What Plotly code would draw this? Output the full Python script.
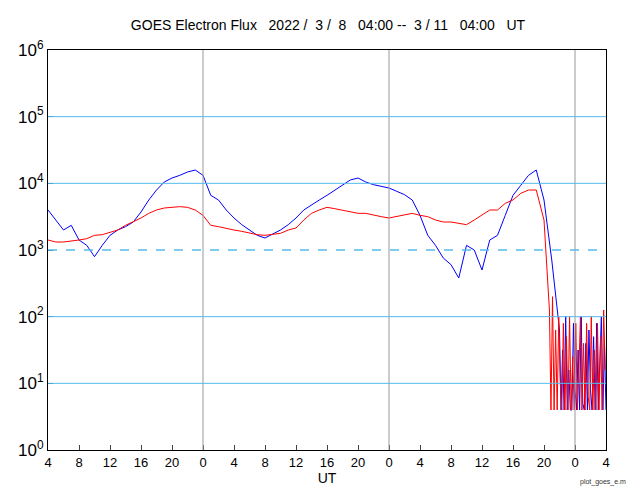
import numpy as np
import plotly.graph_objects as go

# hours since 2022-03-08 04:00 UT, log10 of flux
blue_hours = list(range(0, 66))
blue_log = [3.6, 3.45, 3.3, 3.37, 3.15, 3.07, 2.9, 3.07, 3.22, 3.3, 3.35, 3.42,
            3.57, 3.75, 3.9, 4.02, 4.08, 4.12, 4.17, 4.2, 4.12, 3.82, 3.75, 3.6,
            3.48, 3.38, 3.3, 3.22, 3.18, 3.24, 3.3, 3.38, 3.48, 3.6, 3.68, 3.75,
            3.82, 3.9, 3.98, 4.05, 4.08, 4.02, 3.98, 3.95, 3.93, 3.88, 3.83, 3.75,
            3.52, 3.22, 3.07, 2.88, 2.78, 2.58, 3.07, 3.0, 2.7, 3.15, 3.22, 3.52,
            3.82, 3.97, 4.12, 4.2, 3.75, 2.85]
red_hours = list(range(0, 65))
red_log = [3.15, 3.12, 3.12, 3.13, 3.15, 3.17, 3.22, 3.23, 3.27, 3.3, 3.37, 3.42,
           3.48, 3.55, 3.6, 3.63, 3.64, 3.65, 3.64, 3.6, 3.52, 3.37, 3.35, 3.32,
           3.3, 3.28, 3.25, 3.23, 3.22, 3.24, 3.25, 3.3, 3.33, 3.45, 3.55, 3.6,
           3.64, 3.62, 3.6, 3.58, 3.55, 3.55, 3.52, 3.5, 3.48, 3.5, 3.52, 3.55,
           3.52, 3.5, 3.45, 3.42, 3.42, 3.4, 3.38, 3.45, 3.52, 3.6, 3.6, 3.7,
           3.75, 3.85, 3.9, 3.9, 3.45]
tail_hours = [66 + 0.2 * i for i in range(31)]
blue_tail = [1.8, 0.6, 1.5, 0.6, 2.0, 0.6, 1.2, 0.6, 0.6, 1.9, 0.9, 0.6, 1.5, 0.6, 2.0, 0.7,
             0.6, 1.6, 0.6, 1.8, 0.9, 0.6, 1.7, 0.6, 1.9, 0.6, 1.3, 2.0, 0.6, 1.6, 0.6]
red_tail_hours = [64.5 + 0.2 * i for i in range(38)]
red_tail = [2.4, 2.1, 0.6, 2.3, 0.6, 1.8, 0.6, 2.0, 1.0, 0.6, 1.9, 0.6, 1.7, 0.6, 2.0, 0.6, 1.4, 0.6, 1.9,
            0.6, 1.2, 2.0, 0.6, 1.6, 0.6, 1.9, 0.8, 0.6, 2.0, 0.6, 1.5, 0.6, 1.9, 0.6, 1.7, 0.6, 2.1, 1.2]

tick_hours = list(range(0, 73, 4))
tick_text = ["4", "8", "12", "16", "20", "0", "4", "8", "12", "16", "20", "0",
             "4", "8", "12", "16", "20", "0", "4"]

bx = blue_hours + tail_hours
by = 10 ** np.array(blue_log + blue_tail)
rx = red_hours + red_tail_hours
ry = 10 ** np.array(red_log + red_tail)

fig = go.Figure()
for d in [20, 44, 68]:
    fig.add_vline(x=d, line=dict(color="#999999", width=1))
for v in [1, 2, 4, 5]:
    fig.add_hline(y=10 ** v, line=dict(color="#55bbee", width=1))
fig.add_hline(y=1000, line=dict(color="#55bbee", width=1.5, dash="dash"))
fig.add_trace(go.Scatter(x=bx, y=by, mode="lines", line=dict(color="blue", width=1)))
fig.add_trace(go.Scatter(x=rx, y=ry, mode="lines", line=dict(color="red", width=1)))

fig.update_layout(
    width=640, height=500, showlegend=False,
    plot_bgcolor="white", paper_bgcolor="white",
    margin=dict(l=40, r=42, t=42, b=58, autoexpand=False),
    font=dict(family="Liberation Sans", color="black"),
    title=dict(text="GOES Electron Flux   2022 /  3 /  8   04:00 --  3 / 11   04:00   UT",
               x=0.5, xanchor="center", y=0.975, font=dict(size=14)),
)
fig.update_xaxes(range=[0, 72], tickvals=tick_hours, ticktext=tick_text,
                 showgrid=False, showline=True, linecolor="black", mirror=True,
                 ticks="inside", ticklen=5, tickfont=dict(size=13), automargin=False,
                 title=dict(text="UT", font=dict(size=14), standoff=2))
fig.update_yaxes(type="log", range=[0, 6], tickvals=[10 ** i for i in range(7)],
                 ticktext=["10<sup>%d</sup>" % i for i in range(7)], automargin=False,
                 showgrid=False, showline=True, linecolor="black", mirror=True,
                 ticks="inside", ticklen=5, tickfont=dict(size=17))
fig.add_annotation(text="plot_goes_e.m", x=1.0, y=-0.095, xref="paper", yref="paper",
                   xanchor="right", showarrow=False, font=dict(size=7, color="#333"), xshift=22)
fig.write_html("out.html")
